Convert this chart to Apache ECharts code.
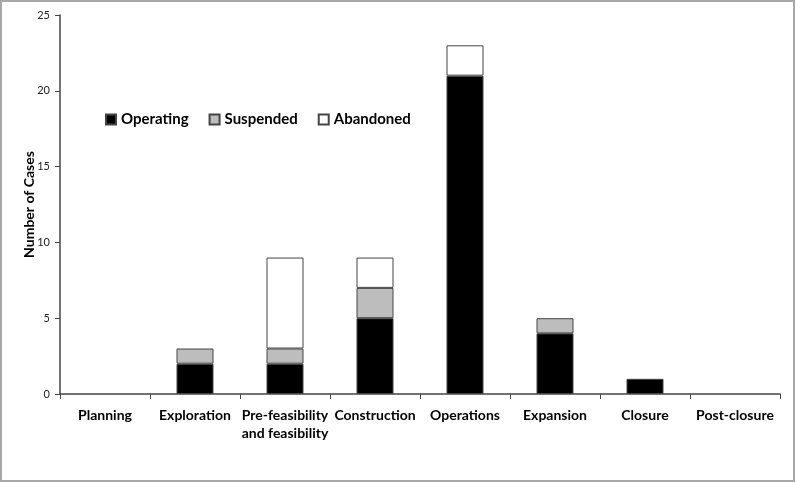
<!DOCTYPE html>
<html>
<head>
<meta charset="utf-8">
<script src="https://cdn.jsdelivr.net/npm/echarts@6/dist/echarts.min.js"></script>
<style>
html,body{margin:0;padding:0;background:#fff;}
#chart{width:796px;height:484px;}
</style>
</head>
<body>
<div id="chart"></div>
<script>
const categories = ['Planning', 'Exploration', 'Pre-feasibility\nand feasibility', 'Construction', 'Operations', 'Expansion', 'Closure', 'Post-closure'];
const operating = [null, 2, 2, 5, 21, 4, 1, null];
const suspended = [null, 1, 1, 2, null, 1, null, null];
const abandoned = [null, null, 6, 2, 2, null, null, null];
const yTicks = [0, 5, 10, 15, 20, 25];

const chart = echarts.init(document.getElementById('chart'));
const font = 'Lato, "Open Sans", sans-serif';
function bar(name, data, color) {
  return {
    name: name, type: 'bar', stack: 'total', data: data, barWidth: 37,
    itemStyle: { color: color, borderColor: '#444', borderWidth: 1 },
    emphasis: { disabled: true }
  };
}
chart.setOption({
  animation: false,
  textStyle: { fontFamily: font },
  graphic: [{
    type: 'rect', shape: { x: 1, y: 1, width: 793, height: 480 },
    style: { fill: 'none', stroke: '#a8a8a8', lineWidth: 2 }, silent: true, z: -1
  }],
  legend: {
    left: 100, top: 107, icon: 'rect', itemWidth: 10, itemHeight: 10, itemGap: 20,
    textStyle: { fontFamily: font, fontWeight: 'bold', fontSize: 15, color: '#000' },
    data: ['Operating', 'Suspended', 'Abandoned']
  },
  grid: { left: 60, right: 16, top: 15, bottom: 90 },
  xAxis: {
    type: 'category', data: categories,
    axisLine: { lineStyle: { color: '#444', width: 1.5 } },
    axisTick: { show: true, length: 5, lineStyle: { color: '#444' } },
    axisLabel: { fontFamily: font, fontWeight: 'bold', fontSize: 14, color: '#000', margin: 12, lineHeight: 18, interval: 0 }
  },
  yAxis: {
    type: 'value', min: yTicks[0], max: yTicks[yTicks.length - 1], interval: 5,
    name: 'Number of Cases', nameLocation: 'middle', nameGap: 24, nameRotate: 90,
    nameMoveOverlap: false,
    nameTextStyle: { fontFamily: font, fontWeight: 'bold', fontSize: 14, color: '#000' },
    splitLine: { show: false },
    axisLine: { show: true, lineStyle: { color: '#444', width: 1.5 } },
    axisTick: { show: true, length: 5, lineStyle: { color: '#444' } },
    axisLabel: { fontFamily: font, fontSize: 11, color: '#222', margin: 10 }
  },
  series: [
    bar('Operating', operating, '#000000'),
    bar('Suspended', suspended, '#bdbdbd'),
    bar('Abandoned', abandoned, '#ffffff')
  ]
});
</script>
</body>
</html>
